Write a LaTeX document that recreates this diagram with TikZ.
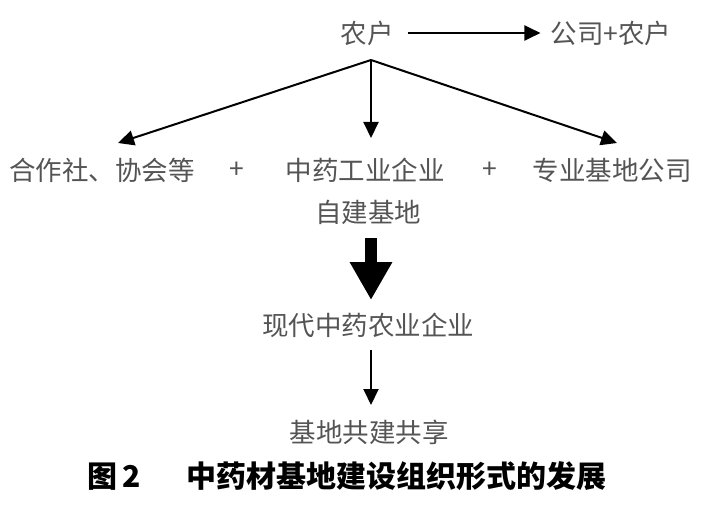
\documentclass[tikz,border=0pt]{standalone}
\usepackage{fontspec}
\setmainfont{Noto Sans CJK SC}
\usetikzlibrary{arrows.meta}
\definecolor{txtgray}{gray}{0.33}
\begin{document}
\begin{tikzpicture}[x=1pt,y=-1pt,
  lbl/.style={text=txtgray, font=\fontsize{26.5}{30}\selectfont, inner sep=0pt},
  conn/.style={line width=2pt, -{Triangle[length=16pt,width=15pt]}},
  bigarrow/.style={line width=12pt, -{Triangle[length=38pt,width=40pt]}},
  captxt/.style={text=black, font=\fontsize{30}{34}\selectfont\bfseries, inner sep=0pt}
]
\useasboundingbox (0,0) rectangle (701,505);
\node[lbl] (nh) at (367,33) {农户};
\node[lbl] (gs) at (611,33) {公司+农户};
\coordinate (br) at (371,60);
\node[lbl] (coop) at (102,170) {合作社、协会等};
\node[lbl] (p1) at (237,170) {+};
\node[lbl] (zy) at (365,170) {中药工业企业};
\node[lbl] (p2) at (490,170) {+};
\node[lbl] (zb) at (612,170) {专业基地公司};
\node[lbl] (zj) at (368,212) {自建基地};
\node[lbl] (xd) at (368,325) {现代中药农业企业};
\node[lbl] (jd) at (369,432) {基地共建共享};
\node[captxt] (title) at (347,476) {图\,2\hspace{1.5em}中药材基地建设组织形式的发展};

\coordinate (ltip) at (118,143);
\coordinate (mtip) at (371,138);
\coordinate (rtip) at (617,143);
\coordinate (bigtop) at (371,238);
\coordinate (bigtip) at (371,300);
\coordinate (smtop) at (371,350);
\coordinate (smtip) at (371,405);

\draw[conn] ([xshift=14pt]nh.east) -- ([xshift=-10pt]gs.west);
\draw[conn] (br) -- (ltip);
\draw[conn] (br) -- (mtip);
\draw[conn] (br) -- (rtip);
\draw[bigarrow] (bigtop) -- (bigtip);
\draw[conn] (smtop) -- (smtip);
\end{tikzpicture}
\end{document}
